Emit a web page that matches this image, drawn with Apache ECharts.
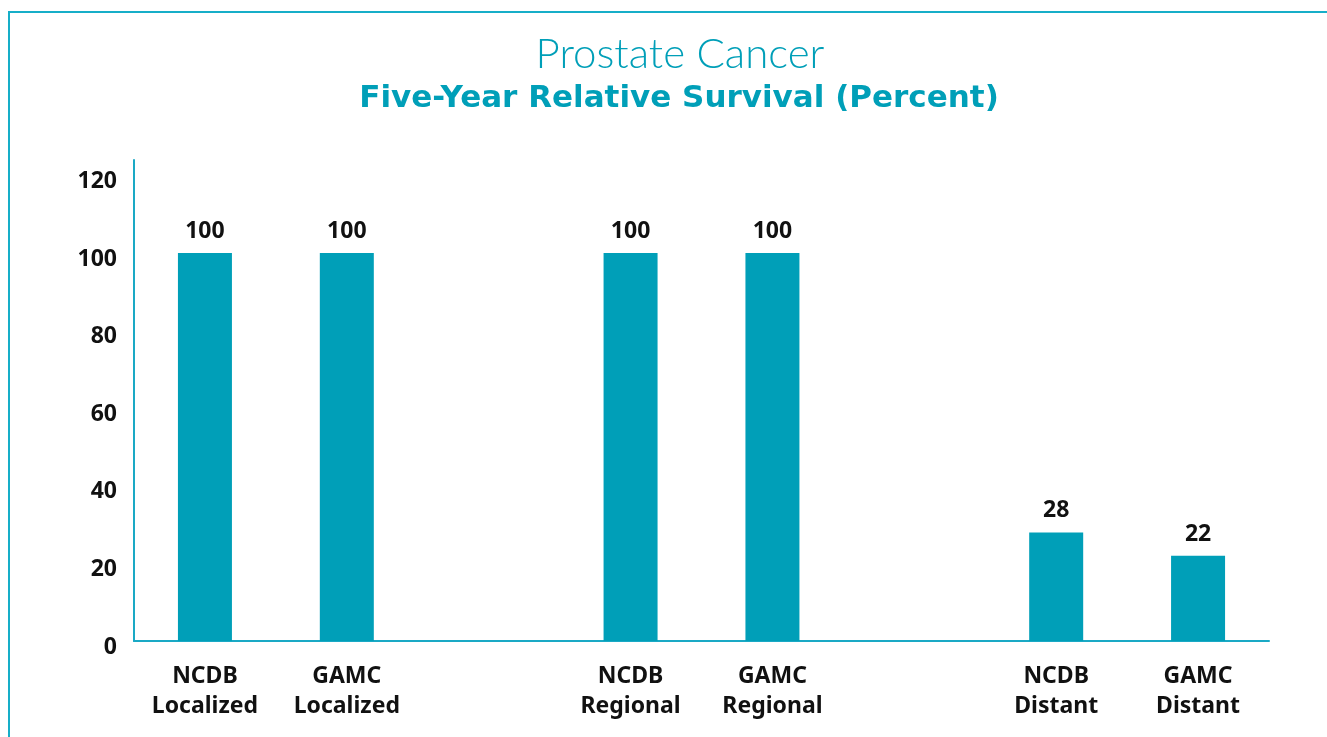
<!DOCTYPE html>
<html>
<head>
<meta charset="utf-8">
<script src="https://cdn.jsdelivr.net/npm/echarts@6/dist/echarts.min.js"></script>
<style>
  html, body { margin: 0; padding: 0; background: #fff; }
  .frame {
    position: absolute; left: 8px; top: 11px; right: 0; bottom: 0;
    border-top: 2px solid #16aec8;
    border-left: 2px solid #16aec8;
  }
  #zhu { position: absolute; left: 0; top: 0; width: 1327px; height: 737px; }
</style>
</head>
<body>
<div class="frame"></div>
<div id="zhu"></div>
<script>
// chart data
var categories = ['NCDB\nLocalized', 'GAMC\nLocalized', '', 'NCDB\nRegional', 'GAMC\nRegional', '', 'NCDB\nDistant', 'GAMC\nDistant'];
var survival = [100, 100, '-', 100, 100, '-', 28, 22];
var yTicks = [0, 20, 40, 60, 80, 100, 120];

var teal = '#009fb8';
var chart = echarts.init(document.getElementById('zhu'));
var option = {
  backgroundColor: 'transparent',
  animation: false,
  title: [{
    text: 'Prostate Cancer',
    left: 675, top: 28, textAlign: 'center',
    textStyle: { color: teal, fontFamily: 'Lato', fontWeight: 300, fontSize: 42 }
  }, {
    text: 'Five-Year Relative Survival (Percent)',
    left: 674, top: 78, textAlign: 'center',
    textStyle: { color: teal, fontFamily: 'DejaVu Sans', fontWeight: 'bold', fontSize: 31 }
  }],
  grid: { left: 134, right: 58, top: 160, bottom: 96 },
  xAxis: {
    type: 'category',
    data: categories,
    axisLine: { show: true, lineStyle: { color: '#1aa9c5', width: 2 } },
    axisTick: { show: false },
    axisLabel: {
      interval: 0,
      margin: 20,
      color: '#111',
      fontFamily: 'Noto Sans',
      fontWeight: 'bold',
      fontSize: 23,
      lineHeight: 30
    }
  },
  yAxis: {
    type: 'value',
    min: 0,
    max: 124,
    interval: 20,
    axisLine: { show: true, lineStyle: { color: '#1aa9c5', width: 2 } },
    axisTick: { show: false },
    splitLine: { show: false },
    axisLabel: {
      margin: 17,
      formatter: function (v) { return yTicks.indexOf(v) >= 0 ? '{t|' + v + '}' : ''; },
      rich: {
        t: {
          color: '#111',
          fontFamily: 'Noto Sans',
          fontWeight: 'bold',
          fontSize: 23,
          padding: [12, 0, 0, 0]
        }
      }
    }
  },
  series: [{
    type: 'bar',
    data: survival,
    barWidth: 54,
    itemStyle: { color: teal },
    label: {
      show: true,
      position: 'top',
      distance: 10,
      color: '#111',
      fontFamily: 'Noto Sans',
      fontWeight: 'bold',
      fontSize: 23
    }
  }]
};
chart.setOption(option);
</script>
</body>
</html>
